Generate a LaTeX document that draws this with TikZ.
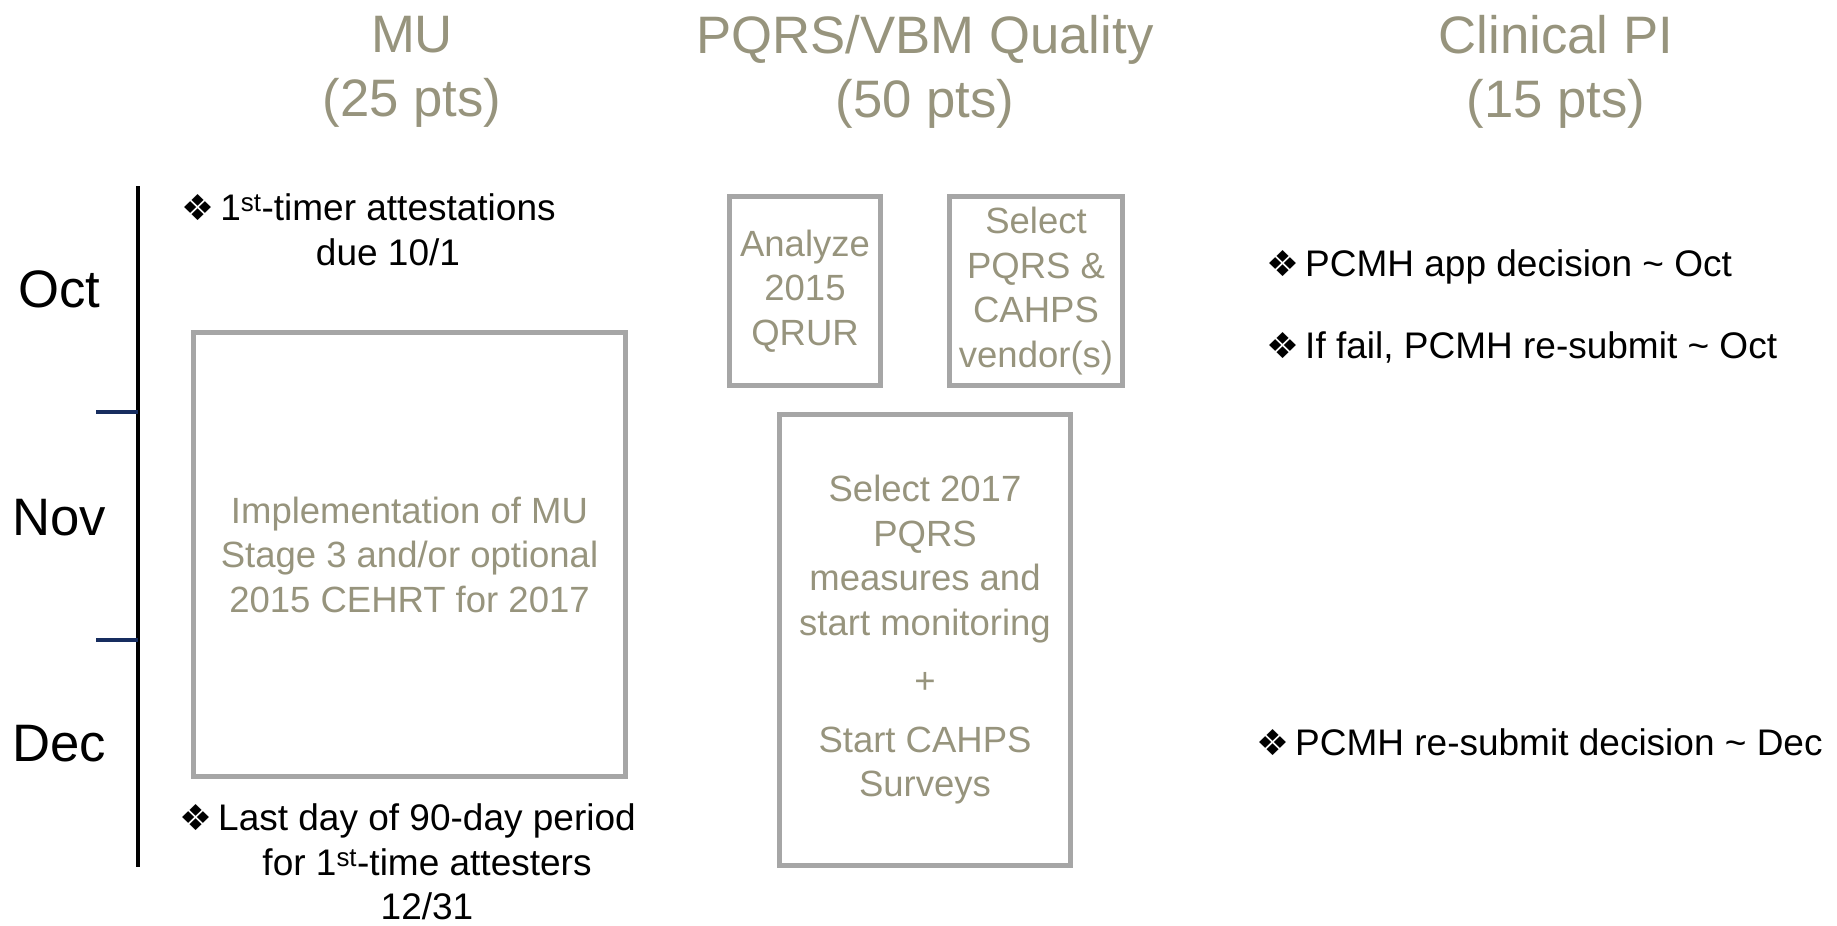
\documentclass[tikz,border=0pt]{standalone}
\usepackage{fontspec}
\setmainfont{Liberation Sans}
\newfontfamily\dingfont{DejaVu Sans}
\definecolor{headtan}{RGB}{151,148,125}
\definecolor{boxgray}{RGB}{166,166,166}
\definecolor{ticknavy}{RGB}{23,45,95}
\newcommand{\diabul}{\resizebox{33pt}{26pt}{\dingfont ❖}}

\begin{document}
\begin{tikzpicture}[x=1pt, y=-1pt,
	head/.style={text=headtan, align=center, inner sep=0pt, font=\fontsize{52.7}{64}\selectfont},
	month/.style={inner sep=0pt, font=\fontsize{52.7}{64}\selectfont},
	note/.style={align=center, inner sep=0pt, font=\fontsize{37}{44.5}\selectfont},
	task/.style={draw=boxgray, line width=5pt, text=headtan, align=center, inner sep=0pt, font=\fontsize{36.5}{44.5}\selectfont},
	tick/.style={draw=ticknavy, line width=3.5pt}]
	\useasboundingbox (0,0) rectangle (1837,926);

	\node[head](mu) at (412,72){MU\\(25 pts)};
	\node[head](pqrs) at (925,72){PQRS/VBM Quality\\(50 pts)};
	\node[head](clin) at (1556,72){Clinical PI\\(15 pts)};

	\node[month](oct) at (59,289){Oct};
	\node[month](nov) at (59,518){Nov};
	\node[month](dec) at (59,744){Dec};

	\coordinate(top) at (138,186);
	\coordinate(bottom) at (138,867);
	\coordinate(tickone) at (96,412);
	\coordinate(ticktwo) at (96,640);
	\draw [line width=3.5pt, color=black] (top) -- (bottom);
	\draw [tick] (tickone) -- (tickone -| top);
	\draw [tick] (ticktwo) -- (ticktwo -| top);

	\node[note](first) at (388,230){\llap{\diabul\hspace{5.5pt}}1\textsuperscript{st}-timer attestations\\due 10/1};
	\node[note](last) at (427,862){\llap{\diabul\hspace{5.5pt}}Last day of 90-day period\\for 1\textsuperscript{st}-time attesters\\12/31};

	\node[task, minimum width=432, minimum height=444](impl) at (409.5,554.5){Implementation of MU\\Stage 3 and/or optional\\2015 CEHRT for 2017};
	\node[task, minimum width=151, minimum height=189](qrur) at (805,291){Analyze\\2015\\QRUR};
	\node[task, minimum width=173, minimum height=189](vendor) at (1036,291){Select\\PQRS \&\\CAHPS\\vendor(s)};
	\node[task, minimum width=291, minimum height=451](measures) at (925,640){Select 2017\\PQRS\\measures and\\start monitoring\\[14pt]+\\[14pt]Start CAHPS\\Surveys};

	\node[note, anchor=base west](app) at (1305,276){\llap{\diabul\hspace{5.5pt}}PCMH app decision \textasciitilde{} Oct};
	\node[note, anchor=base west](fail) at (1305,358){\llap{\diabul\hspace{5.5pt}}If fail, PCMH re-submit \textasciitilde{} Oct};
	\node[note, anchor=base west](resub) at (1295,755){\llap{\diabul\hspace{5.5pt}}PCMH re-submit decision \textasciitilde{} Dec};

\end{tikzpicture}
\end{document}
